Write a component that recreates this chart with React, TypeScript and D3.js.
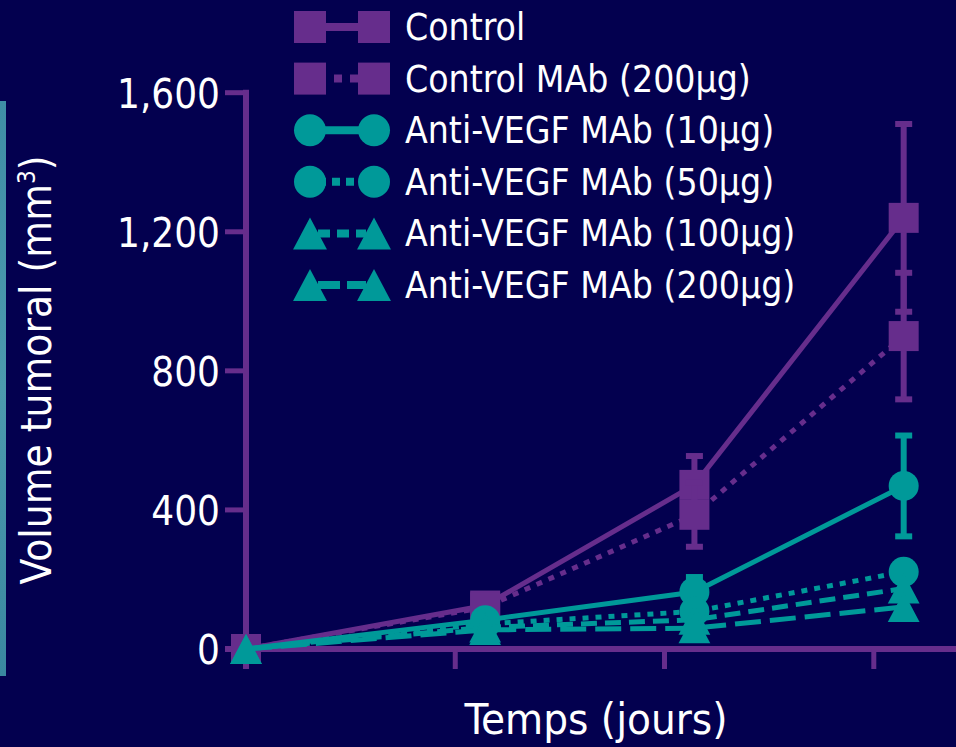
import React from "react";
import * as d3 from "d3";

// ---- data ----
const days = [0, 8, 15, 22];
const xTicks = [0, 7, 14, 21];
const yTicks = [0, 400, 800, 1200, 1600];
const seriesNames = [
  "Control",
  "Control MAb (200µg)",
  "Anti-VEGF MAb (10µg)",
  "Anti-VEGF MAb (50µg)",
  "Anti-VEGF MAb (100µg)",
  "Anti-VEGF MAb (200µg)",
];
const control = [0, 125, 472, 1240];
const controlErr = [0, 0, 83, 270];
const controlMAb = [0, 120, 386, 900];
const controlMAbErr = [0, 0, 92, 182];
const antiVegf10 = [0, 83, 164, 469];
const antiVegf10Err = [0, 0, 43, 145];
const antiVegf50 = [0, 72, 108, 222];
const antiVegf100 = [0, 62, 84, 174];
const antiVegf200 = [0, 55, 60, 121];
const zeroErr = [0, 0, 0, 0];

const PURPLE = "#662d8c";
const TEAL = "#009999";
const BG = "#03004f";
const FONT = "'DejaVu Sans Condensed', 'DejaVu Sans', sans-serif";

type Marker = "square" | "circle" | "triangle";
const seriesValues = [control, controlMAb, antiVegf10, antiVegf50, antiVegf100, antiVegf200];
const seriesErrors = [controlErr, controlMAbErr, antiVegf10Err, zeroErr, zeroErr, zeroErr];
const seriesColors = [PURPLE, PURPLE, TEAL, TEAL, TEAL, TEAL];
const seriesMarkers: Marker[] = ["square", "square", "circle", "circle", "triangle", "triangle"];
// first day index at which a marker is visible in the source figure
const seriesMarkerStart = [0, 0, 1, 1, 0, 0];
const seriesDash = ["", "6 7", "", "6 7", "16 8", "26 9"];
const legendDash = ["", "8 8", "", "8 6", "12 7", "22 7"];

function MarkerShape({ m, cx, cy, s, color }: { m: Marker; cx: number; cy: number; s: number; color: string }) {
  if (m === "square") return <rect x={cx - s / 2} y={cy - s / 2} width={s} height={s} fill={color} />;
  if (m === "circle") return <circle cx={cx} cy={cy} r={s / 2} fill={color} />;
  const w = s * 1.06;
  const h = s;
  const p = d3.path();
  p.moveTo(cx, cy - h / 2);
  p.lineTo(cx + w / 2, cy + h / 2);
  p.lineTo(cx - w / 2, cy + h / 2);
  p.closePath();
  return <path d={p.toString()} fill={color} />;
}

export default function App() {
  const W = 956;
  const H = 747;
  const x = d3.scaleLinear().domain([0, 23.75]).range([246, 956]);
  const y = d3.scaleLinear().domain([0, 1600]).range([649, 92.7]);
  const line = d3
    .line<number>()
    .x((_, i) => x(days[i]))
    .y((d) => y(d));

  const legendY = d3.scaleLinear().domain([0, 5]).range([27, 285]);

  return (
    <svg
      width={W}
      height={H}
      style={{ position: "absolute", left: 0, top: 0, display: "block" }}
      fontFamily={FONT}
    >
      <defs>
        <linearGradient id="strip" x1="0" y1="0" x2="0" y2="1">
          <stop offset="0" stopColor="#3f8ea6" />
          <stop offset="0.5" stopColor="#4c9aae" />
          <stop offset="1" stopColor="#3a88a0" />
        </linearGradient>
      </defs>
      <rect x={0} y={0} width={W} height={H} fill={BG} />
      <rect x={0} y={101} width={6} height={575} fill="url(#strip)" />

      {/* axes */}
      <line x1={x(0)} x2={x(0)} y1={y(1600) - 3} y2={669} stroke={PURPLE} strokeWidth={6} />
      <line x1={225} x2={956} y1={y(0)} y2={y(0)} stroke={PURPLE} strokeWidth={6} />
      {yTicks.map((t) => (
        <g key={t}>
          <line x1={225} x2={x(0)} y1={y(t)} y2={y(t)} stroke={PURPLE} strokeWidth={5} />
          <text x={220} y={y(t) + 15} fill="#fff" fontSize={40} textAnchor="end">
            {d3.format(",")(t)}
          </text>
        </g>
      ))}
      {xTicks.map((t) => (
        <line key={t} x1={x(t)} x2={x(t)} y1={y(0)} y2={669} stroke={PURPLE} strokeWidth={5} />
      ))}

      {/* series */}
      {seriesValues.map((vals, si) => (
        <g key={si}>
          <path
            d={line(vals) || ""}
            fill="none"
            stroke={seriesColors[si]}
            strokeWidth={5}
            strokeDasharray={seriesDash[si]}
          />
          {vals.map((v, i) => {
            const e = seriesErrors[si][i];
            const cx = x(days[i]);
            return (
              <g key={i}>
                {e > 0 && (
                  <g stroke={seriesColors[si]} strokeWidth={6}>
                    <line x1={cx} x2={cx} y1={y(v - e)} y2={y(v + e)} />
                    <line x1={cx - 8.5} x2={cx + 8.5} y1={y(v + e)} y2={y(v + e)} />
                    <line x1={cx - 8.5} x2={cx + 8.5} y1={y(v - e)} y2={y(v - e)} />
                  </g>
                )}
                {i >= seriesMarkerStart[si] && (
                  <MarkerShape m={seriesMarkers[si]} cx={cx} cy={y(v)} s={30} color={seriesColors[si]} />
                )}
              </g>
            );
          })}
        </g>
      ))}

      {/* legend */}
      {seriesNames.map((name, si) => {
        const cy = legendY(si);
        return (
          <g key={name}>
            <line
              x1={318}
              x2={366}
              y1={cy}
              y2={cy}
              stroke={seriesColors[si]}
              strokeWidth={8}
              strokeDasharray={legendDash[si]}
            />
            <MarkerShape m={seriesMarkers[si]} cx={310} cy={cy} s={32} color={seriesColors[si]} />
            <MarkerShape m={seriesMarkers[si]} cx={374} cy={cy} s={32} color={seriesColors[si]} />
            <text x={405} y={cy + 13} fill="#fff" fontSize={37}>
              {name}
            </text>
          </g>
        );
      })}

      {/* axis titles */}
      <text x={596} y={734} fill="#fff" fontSize={43.5} textAnchor="middle">
        Temps (jours)
      </text>
      <text
        transform="translate(51,370) rotate(-90)"
        fill="#fff"
        fontSize={42}
        textAnchor="middle"
      >
        Volume tumoral (mm
        <tspan fontSize={24} dy={-16}>
          3
        </tspan>
        <tspan dy={16}>)</tspan>
      </text>
    </svg>
  );
}
